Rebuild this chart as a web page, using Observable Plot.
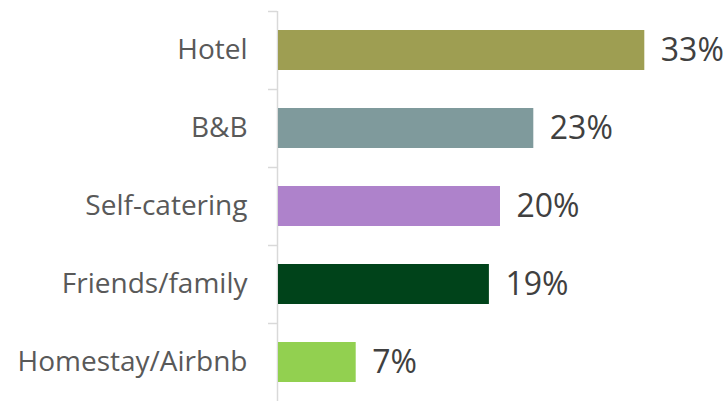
<!DOCTYPE html>
<html>
<head>
<meta charset="utf-8">
<script src="https://cdn.jsdelivr.net/npm/d3@7"></script>
<script src="https://cdn.jsdelivr.net/npm/@observablehq/plot@0.6"></script>
<style>
  html, body { margin: 0; padding: 0; background: #fff; }
  #chart svg { display: block; }
</style>
</head>
<body>
<div id="chart"></div>
<script>
const categories = ["Hotel", "B&B", "Self-catering", "Friends/family", "Homestay/Airbnb"];
const values = [33, 23, 20, 19, 7];
const colors = ["#9e9e52", "#7f9a9c", "#ae82cb", "#00431a", "#92d050"];

const data = categories.map((c, i) => ({category: c, value: values[i]}));

const chart = Plot.plot({
  width: 726,
  height: 401,
  marginLeft: 278,
  marginRight: 4,
  marginTop: 11,
  marginBottom: 0,
  style: {fontFamily: "'Open Sans', sans-serif", background: "#fff"},
  x: {domain: [0, 40], axis: null},
  y: {domain: categories, padding: 0, axis: null},
  color: {domain: categories, range: colors},
  marks: [
    Plot.axisY({tickSize: 9, dy: -39, dx: -1, text: null, label: null, stroke: "#d9d9d9", strokeWidth: 1.5}),
    Plot.axisY({tickSize: 0, tickPadding: 31, fontSize: 28, fill: "#595959", label: null}),
    Plot.ruleX([0], {stroke: "#d9d9d9", strokeWidth: 1.5, dx: -1}),
    Plot.barX(data, {x: "value", y: "category", fill: "category", insetTop: 19, insetBottom: 19}),
    Plot.text(data, {x: "value", y: "category", text: d => d.value + "%", dx: 16, textAnchor: "start", fontSize: 32, fill: "#404040"})
  ]
});
document.getElementById("chart").appendChild(chart);
</script>
</body>
</html>
